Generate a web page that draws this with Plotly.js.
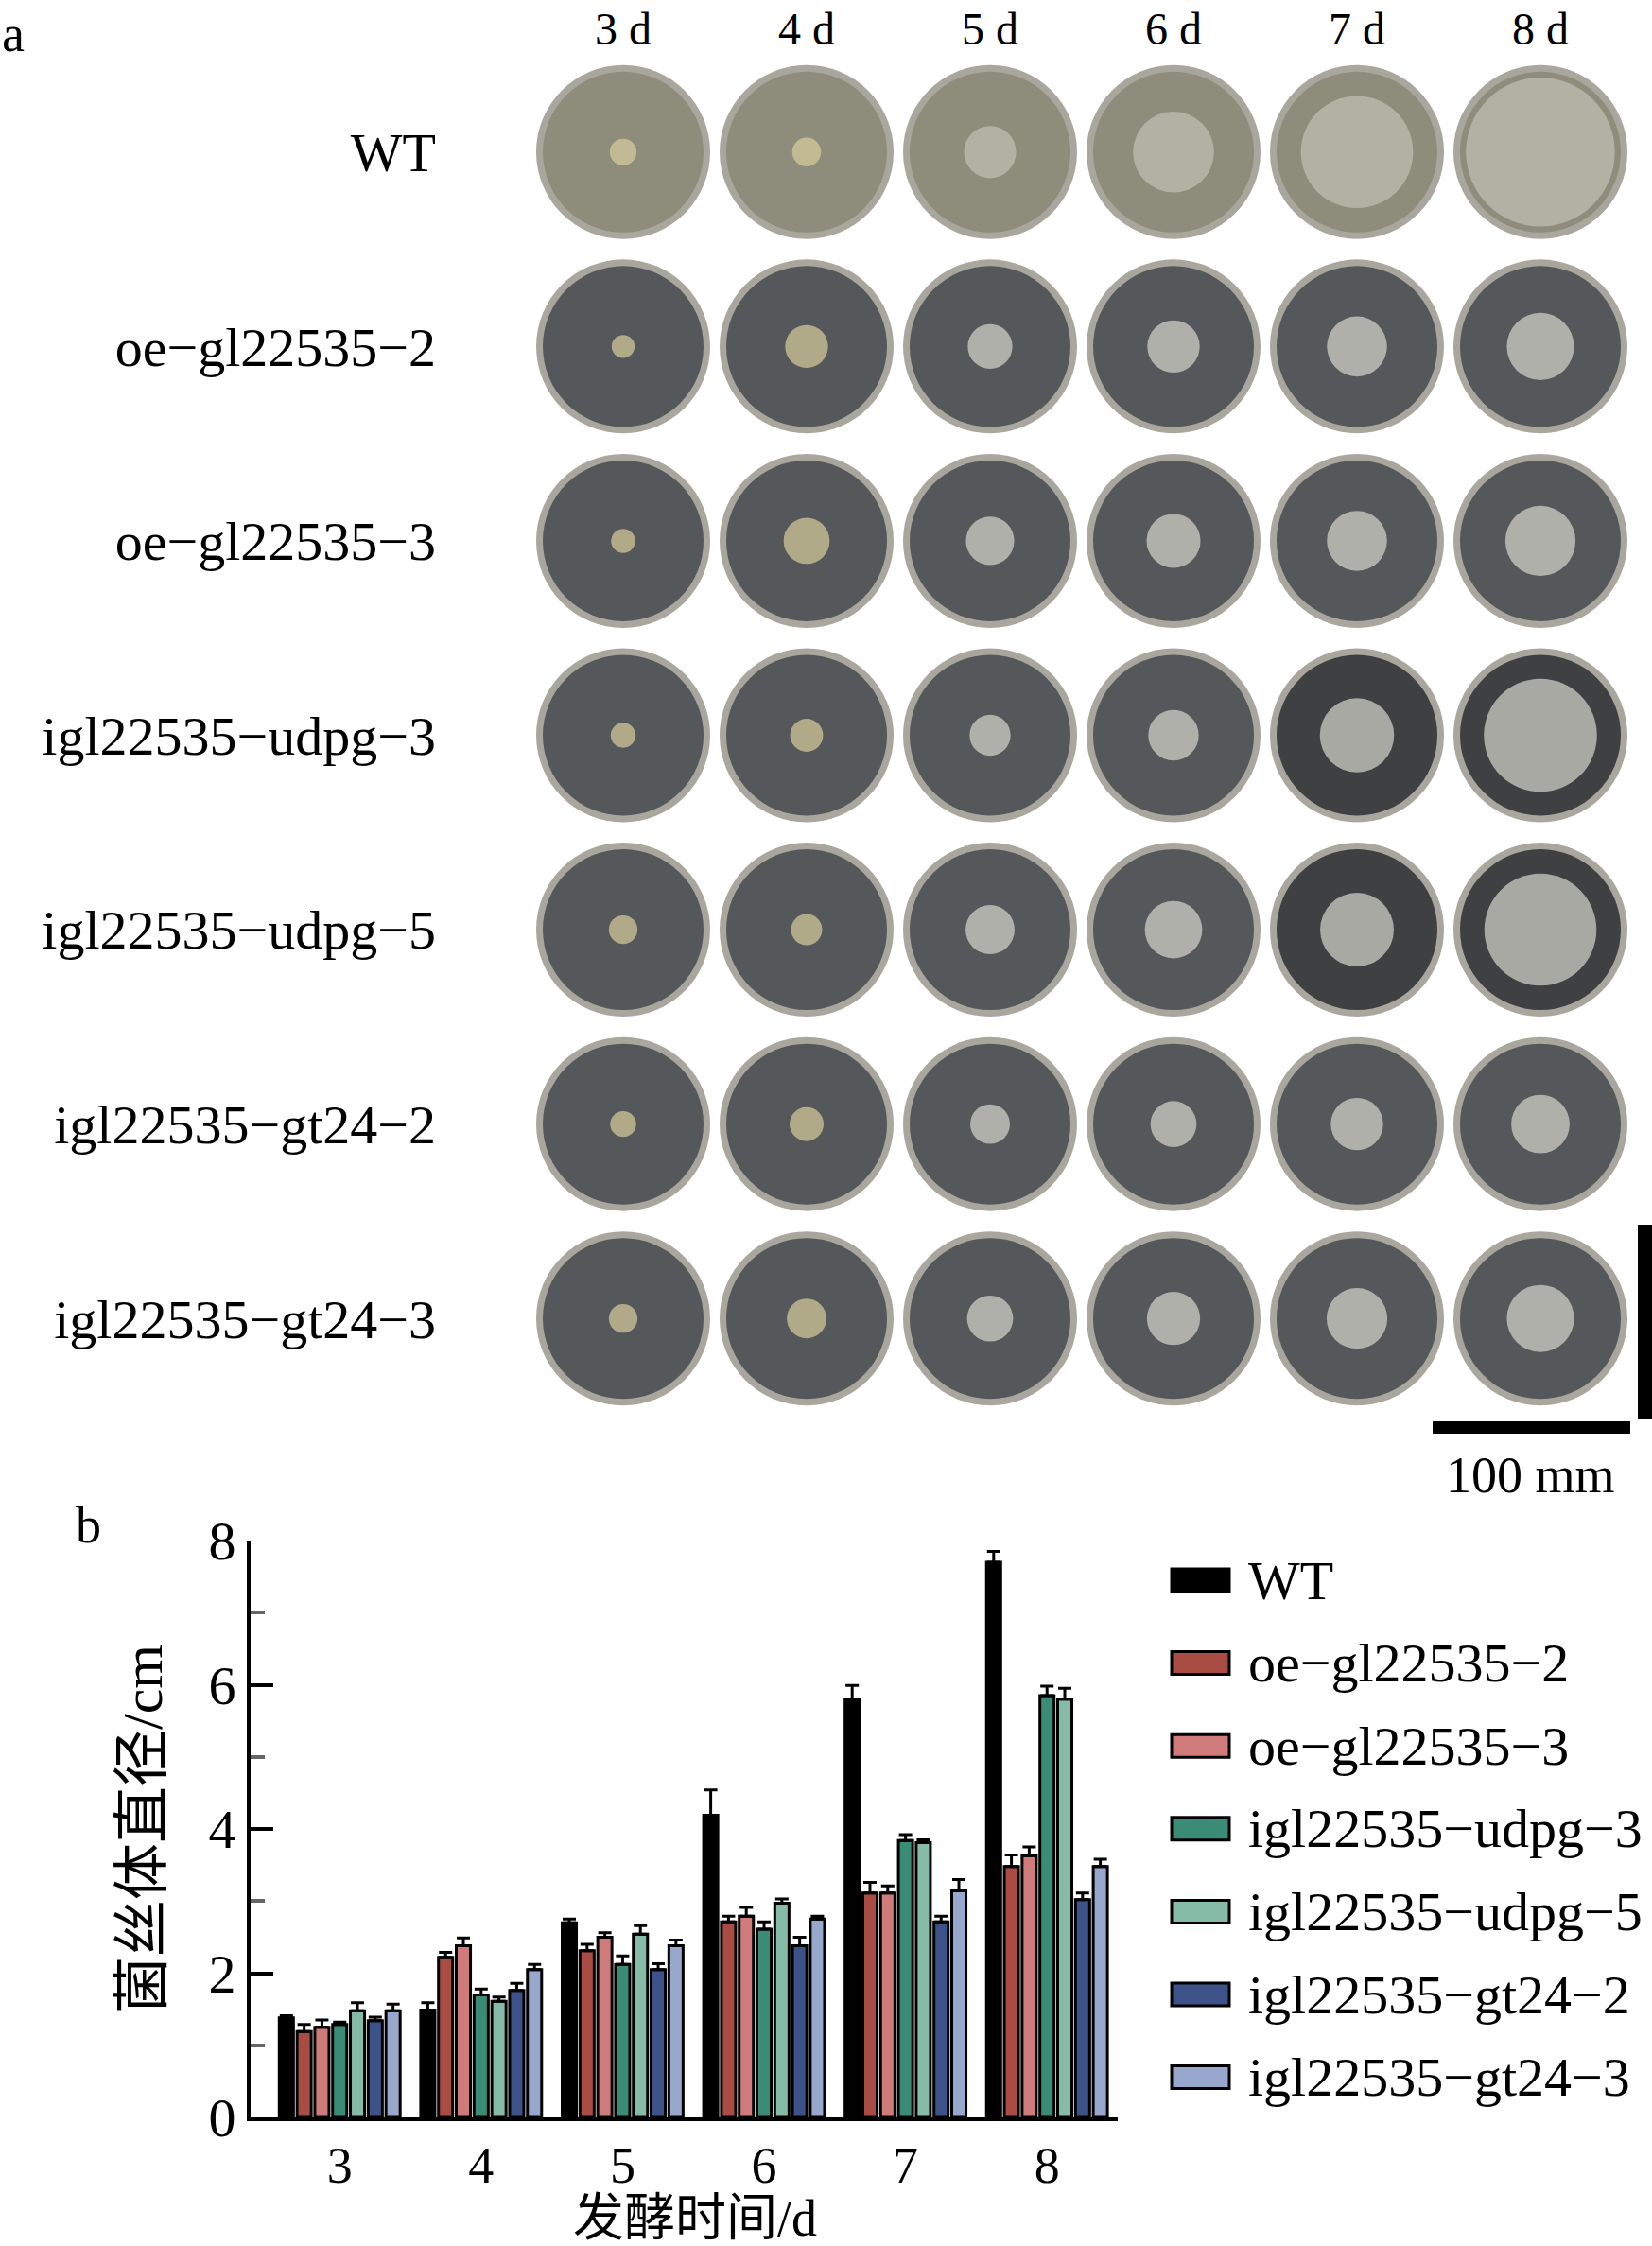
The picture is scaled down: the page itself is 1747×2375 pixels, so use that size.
<!DOCTYPE html>
<html>
<head>
<meta charset="utf-8">
<script src="https://cdn.plot.ly/plotly-3.0.1.min.js"></script>
<style>
  html, body { margin: 0; padding: 0; background: #fff; }
  #plot { width: 1747px; height: 2375px; }
</style>
</head>
<body>
<div id="plot"></div>
<script>
const days = [3, 4, 5, 6, 7, 8];
const strains = [
  "WT",
  "oe−gl22535−2",
  "oe−gl22535−3",
  "igl22535−udpg−3",
  "igl22535−udpg−5",
  "igl22535−gt24−2",
  "igl22535−gt24−3",
];

// mycelium diameter (cm) and upper error
const wt = [1.38, 1.49, 2.70, 4.19, 5.80, 7.70];
const wtErr = [0.03, 0.10, 0.05, 0.35, 0.19, 0.15];
const oe2 = [1.19, 2.22, 2.31, 2.71, 3.11, 3.48];
const oe2Err = [0.10, 0.07, 0.09, 0.08, 0.15, 0.16];
const oe3 = [1.25, 2.38, 2.50, 2.79, 3.11, 3.63];
const oe3Err = [0.10, 0.11, 0.06, 0.12, 0.10, 0.12];
const udpg3 = [1.29, 1.70, 2.12, 2.61, 3.84, 5.85];
const udpg3Err = [0.03, 0.08, 0.12, 0.10, 0.08, 0.13];
const udpg5 = [1.48, 1.61, 2.54, 2.97, 3.81, 5.80];
const udpg5Err = [0.11, 0.06, 0.12, 0.06, 0.04, 0.15];
const gt2 = [1.34, 1.76, 2.05, 2.38, 2.71, 3.02];
const gt2Err = [0.05, 0.10, 0.08, 0.12, 0.08, 0.09];
const gt3 = [1.48, 2.05, 2.38, 2.75, 3.14, 3.48];
const gt3Err = [0.09, 0.07, 0.08, 0.04, 0.16, 0.10];

const values = [wt, oe2, oe3, udpg3, udpg5, gt2, gt3];
const errors = [wtErr, oe2Err, oe3Err, udpg3Err, udpg5Err, gt2Err, gt3Err];
const colors = ["#000000", "#a84c44", "#d07b7b", "#3a8c76", "#86bba8", "#3c5289", "#98a8cc"];

const W = 1747, H = 2375;
const FONT = "Liberation Serif, Times New Roman, Noto Sans CJK SC, serif";
const dishCm = 9;
const dishPx = 184;

const dayLabels = days.map((d) => d + " d");

// panel a: dishes as markers, colony size taken from the measured diameter
const dx = [], dy = [], plateColor = [], colonySize = [], colonyColor = [];
strains.forEach((s, r) => {
  days.forEach((d, c) => {
    dx.push(dayLabels[c]);
    dy.push(s);
    plateColor.push(r === 0 ? "#8e8d7b" : (r >= 3 && r <= 4 && c >= 4 ? "#3e4042" : "#55585b"));
    colonySize.push((values[r][c] / dishCm) * dishPx);
    colonyColor.push(c <= 1 ? "#d8cd9c" : (r === 0 ? "#c2c1b6" : "#d6d5cc"));
  });
});

const traces = [
  {
    type: "scatter", mode: "markers", x: dx, y: dy, xaxis: "x2", yaxis: "y2",
    marker: { size: dishPx, color: "#a9a79d", line: { width: 0 } },
    hoverinfo: "skip", showlegend: false,
  },
  {
    type: "scatter", mode: "markers", x: dx, y: dy, xaxis: "x2", yaxis: "y2",
    marker: { size: dishPx - 14, color: plateColor, line: { width: 0 } },
    hoverinfo: "skip", showlegend: false,
  },
  {
    type: "scatter", mode: "markers", x: dx, y: dy, xaxis: "x2", yaxis: "y2",
    marker: { size: colonySize, color: colonyColor, line: { width: 0 } },
    hoverinfo: "skip", showlegend: false,
  },
];

// panel b: grouped bars
strains.forEach((s, i) => {
  traces.push({
    type: "bar",
    name: s,
    x: days.map(String),
    y: values[i],
    marker: { color: colors[i], line: { color: "#000", width: 3 } },
    error_y: {
      type: "data", symmetric: false,
      array: errors[i], arrayminus: errors[i].map(() => 0),
      color: "#000", thickness: 3, width: 7,
    },
    showlegend: false,
  });
});

// legend drawn by hand so the swatches can be wide
const shapes = [], annotations = [];
const legTop = 1671, legStep = 87.6;
strains.forEach((s, i) => {
  const yc = 1 - (legTop + i * legStep) / H;
  shapes.push({
    type: "rect", xref: "paper", yref: "paper",
    x0: 1239 / W, x1: 1300 / W, y0: yc - 12 / H, y1: yc + 12 / H,
    fillcolor: colors[i], line: { color: "#000", width: 3 },
  });
  annotations.push({
    xref: "paper", yref: "paper", x: 1318 / W, y: yc,
    xanchor: "left", yanchor: "middle", showarrow: false,
    text: s, font: { family: FONT, size: 58, color: "#000" },
  });
});

// scale bar
shapes.push(
  { type: "rect", xref: "paper", yref: "paper", x0: 1515 / W, x1: 1724 / W,
    y0: 1 - 1516 / H, y1: 1 - 1503 / H, fillcolor: "#000", line: { width: 0 } },
  { type: "rect", xref: "paper", yref: "paper", x0: 1732 / W, x1: 1747 / W,
    y0: 1 - 1500 / H, y1: 1 - 1295 / H, fillcolor: "#000", line: { width: 0 } }
);
annotations.push(
  { xref: "paper", yref: "paper", x: 1618 / W, y: 1 - 1560 / H, xanchor: "center", yanchor: "middle",
    showarrow: false, text: "100 mm", font: { family: FONT, size: 54, color: "#000" } },
  { xref: "paper", yref: "paper", x: 0, y: 1 - 36 / H, xanchor: "left", yanchor: "middle",
    showarrow: false, text: "a", font: { family: FONT, size: 54, color: "#000" } },
  { xref: "paper", yref: "paper", x: 78 / W, y: 1 - 1613 / H, xanchor: "left", yanchor: "middle",
    showarrow: false, text: "b", font: { family: FONT, size: 54, color: "#000" } },
  // x axis title, placed by hand so it sits low like the original
  { xref: "paper", yref: "paper", x: 735 / W, y: 1 - 2346 / H, xanchor: "center", yanchor: "middle",
    showarrow: false, text: "发酵时间/d", font: { family: FONT, size: 54, color: "#000" } }
);

const layout = {
  width: W, height: H,
  margin: { l: 0, r: 0, t: 0, b: 0 },
  paper_bgcolor: "#fff", plot_bgcolor: "rgba(0,0,0,0)",
  font: { family: FONT, color: "#000" },
  barmode: "group", bargap: 0.12, bargroupgap: 0.2,
  xaxis: {
    domain: [265 / W, 1182 / W],
    type: "category",
    range: [-0.63, 5.5],
    showline: true, linecolor: "#000", linewidth: 4,
    ticks: "", showgrid: false, zeroline: false,
    tickfont: { family: FONT, size: 54 },
  },
  yaxis: {
    domain: [1 - 2239 / H, 1 - 1629 / H],
    range: [0, 8], tickvals: [0, 2, 4, 6, 8],
    showline: true, linecolor: "#000", linewidth: 4,
    ticks: "inside", ticklen: 24, tickwidth: 4, tickcolor: "#000",
    minor: { tickvals: [1, 3, 5, 7], ticks: "inside", ticklen: 15, tickwidth: 4, tickcolor: "#666" },
    showgrid: false, zeroline: false,
    tickfont: { family: FONT, size: 58 },
    title: { text: "菌丝体直径/cm", font: { family: FONT, size: 60 }, standoff: 30 },
  },
  xaxis2: {
    domain: [562 / W, 1726 / W], anchor: "y2", side: "top",
    type: "category", categoryarray: dayLabels, range: [-0.5, 5.5],
    showline: false, showgrid: false, zeroline: false, ticks: "",
    tickfont: { family: FONT, size: 48 },
  },
  yaxis2: {
    domain: [1 - 1497 / H, 1 - 58 / H], anchor: "x2",
    type: "category", categoryarray: strains, range: [6.5, -0.5],
    showline: false, showgrid: false, zeroline: false, ticks: "",
    ticklabelstandoff: 100,
    tickfont: { family: FONT, size: 58 },
  },
  shapes: shapes,
  annotations: annotations,
};

Plotly.newPlot("plot", traces, layout, { displayModeBar: false, staticPlot: true });
</script>
</body>
</html>
